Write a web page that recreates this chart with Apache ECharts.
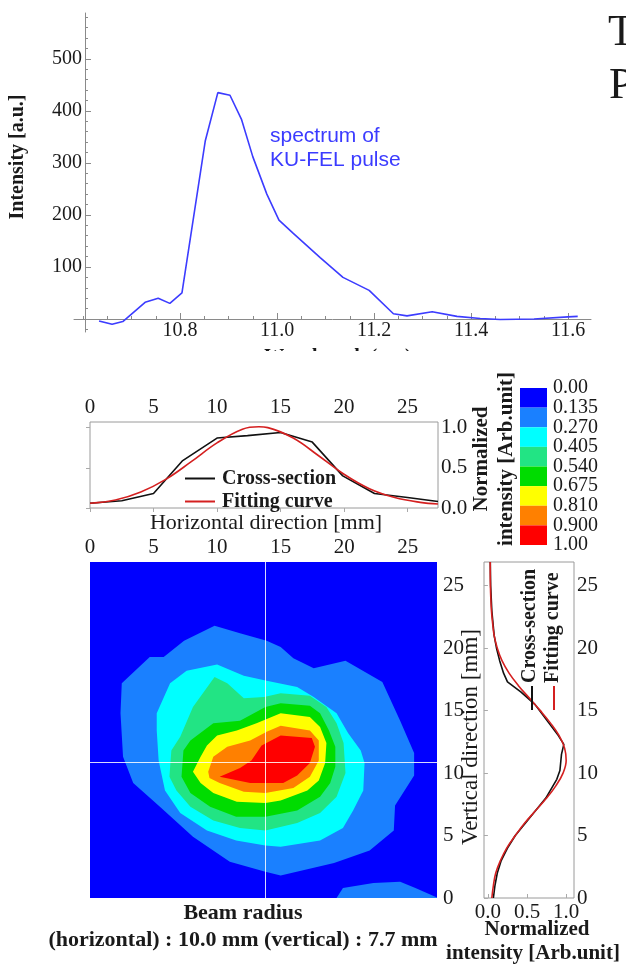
<!DOCTYPE html>
<html><head><meta charset="utf-8">
<script src="https://cdn.jsdelivr.net/npm/echarts@6/dist/echarts.min.js"></script>
<style>html,body{margin:0;padding:0;background:#fff}#c{width:626px;height:968px}</style>
</head><body><div id="c"></div>
<script>
// ---------- Spectrum of KU-FEL pulse ----------
const specWavelength = [10.633,10.66,10.682,10.728,10.755,10.779,10.804,10.852,10.878,10.903,10.927,10.95,10.979,11.004,11.033,11.089,11.136,11.19,11.24,11.268,11.32,11.371,11.419,11.46,11.53,11.6,11.62];
const specIntensity  = [-4,-10,-5,32,40,30,50,342,435,430,383,312,240,190,165,118,80,55,10,6,14,5,1,-1,0,4,5];
const specXTicks = [10.8,11.0,11.2,11.4,11.6];
const specXMinor = [10.6,10.65,10.7,10.75,10.85,10.9,10.95,11.05,11.1,11.15,11.25,11.3,11.35,11.45,11.5,11.55,11.65];
const specYTicks = [100,200,300,400,500];
const specYMinor = [-20,20,40,60,80,120,140,160,180,220,240,260,280,320,340,360,380,420,440,460,480,520,540,560,580];

// ---------- Horizontal cross-section ----------
const hCrossPos = [0,2.5,5,7.3,10,12.4,15,17.5,19.9,22.4,25,27.4];
const hCross    = [0.06,0.09,0.18,0.59,0.87,0.9,0.94,0.82,0.40,0.18,0.13,0.08];
const hFitPos   = [0,2,4,6,8,10,12,13.3,14,16,18,20,22,24,26,27.4];
const hFit      = [0.06,0.1,0.2,0.36,0.58,0.81,0.98,1.01,1.0,0.87,0.65,0.42,0.24,0.13,0.07,0.05];

// ---------- Vertical cross-section ----------
const vCrossPos = [0,1,2,3,4,5,6,7,8,9.5,10.2,11.5,12.3,13,14,15.5,16.5,17.3,18,19,20,21,23,25,26.9];
const vCross    = [0.07,0.09,0.12,0.17,0.25,0.35,0.48,0.61,0.74,0.88,0.92,0.94,0.97,0.9,0.78,0.6,0.42,0.25,0.2,0.15,0.11,0.08,0.05,0.035,0.03];
const vFitPos   = [0,1,2,3,4,5,6,7,8,9,10,11,12,13,14,15,16,17,18,19,20,21,22,23,24,25,26,26.9];
const vFit      = [0.05,0.07,0.10,0.16,0.24,0.35,0.47,0.61,0.75,0.87,0.96,1.0,0.98,0.91,0.80,0.67,0.53,0.39,0.27,0.18,0.12,0.08,0.06,0.045,0.037,0.032,0.03,0.03];

// ---------- Colour levels ----------
const levelTicks  = ['0.00','0.135','0.270','0.405','0.540','0.675','0.810','0.900','1.00'];
const levelColors = ['#0000ff','#1a80ff','#00ffff','#22e484','#00dc00','#ffff00','#ff8000','#ff0000'];

// ---------- Contour boundaries (mm) ----------
const contour1 = [[2.5,17.2],[4.7,19.3],[5.8,19.3],[7.4,20.6],[9.8,21.8],[11.8,21.2],[13.9,20.6],[15.0,20.1],[16.0,19.2],[17.6,18.4],[20.1,19.0],[23.0,17.3],[24.4,14.2],[25.5,11.6],[25.5,9.8],[24.0,7.4],[23.9,5.4],[22.0,3.8],[19.2,2.8],[15.0,1.8],[13.8,2.1],[11.0,2.9],[8.1,4.9],[5.5,7.3],[3.4,9.2],[2.6,11.3],[2.4,14.8]];
const contour1b = [[19.4,0],[19.9,0.8],[22.3,1.2],[24.4,1.3],[25.6,0.8],[27.3,0.05],[27.3,0]];
const contour2 = [[5.25,14.8],[6.3,17.2],[7.6,18.2],[10.0,18.7],[12.1,17.8],[13.9,17.4],[16.3,16.9],[17.6,16.1],[19.4,14.8],[20.3,13.2],[21.3,11.8],[21.6,10.8],[21.5,8.6],[20.7,7.0],[19.9,5.6],[18.1,4.6],[15.0,4.1],[13.8,4.2],[11.5,4.6],[9.2,5.4],[7.1,6.8],[5.9,8.6],[5.4,11.0],[5.25,13.4]];
const contour3 = [[6.25,9.7],[6.4,11.8],[7.1,12.9],[8.1,15.3],[9.8,17.7],[10.8,17.2],[12.1,16.0],[13.7,16.1],[15.0,16.4],[17.3,16.2],[18.6,15.3],[19.4,14.0],[19.95,12.4],[20.1,10.0],[19.4,8.1],[18.1,6.8],[16.3,6.0],[13.8,5.4],[11.8,5.6],[9.7,6.2],[7.9,7.3],[6.8,8.6]];
const contour4 = [[7.2,9.7],[7.35,11.8],[7.9,12.6],[9.7,14.0],[11.8,14.2],[13.8,15.3],[15.0,15.6],[17.3,15.4],[18.1,14.8],[18.8,13.4],[19.3,12.1],[19.3,10.5],[18.9,9.2],[18.1,8.1],[16.3,7.0],[13.8,6.5],[11.5,6.5],[9.45,7.3],[7.9,8.4]];
const contour5 = [[8.1,10.1],[8.7,11.3],[9.2,12.2],[10.0,13.0],[11.55,13.4],[13.1,14.0],[15.0,14.8],[17.3,14.5],[18.1,13.7],[18.6,12.4],[18.5,10.8],[18.0,9.4],[17.1,8.6],[15.0,7.8],[13.8,7.6],[11.55,7.7],[9.7,8.4],[8.7,9.2]];
const contour6 = [[9.3,10.1],[9.7,11.3],[10.8,12.1],[12.6,12.6],[13.9,13.3],[15.0,13.8],[17.3,13.4],[18.0,12.6],[18.0,11.0],[17.3,9.7],[16.0,8.8],[13.8,8.4],[12.1,8.5],[10.2,9.2],[9.4,9.6]];
const contour7 = [[10.2,9.7],[11.8,10.4],[12.7,11.0],[13.5,12.2],[15.0,13.0],[17.45,12.8],[17.7,12.1],[17.3,10.8],[16.3,9.8],[15.2,9.2],[13.8,9.2],[12.6,9.2]];
const crossHairX = 13.8, crossHairY = 10.9;

const contourPolys = [
  {level:1, pts:contour1},{level:1, pts:contour1b},{level:2, pts:contour2},{level:3, pts:contour3},
  {level:4, pts:contour4},{level:5, pts:contour5},{level:6, pts:contour6},{level:7, pts:contour7}
];

const serif = '"Liberation Serif","Times New Roman",serif';
const sans = '"Liberation Sans",Arial,sans-serif';
const axisGray = '#8a8a8a';
const txtCol = '#1a1a1a';

function txt(x, y, text, font, opt) {
  opt = opt || {};
  const a = opt.align || 'center', v = opt.va || 'middle';
  return {type:'text', x:x, y:y, rotation:opt.rot || 0, z:100,
    style:{text:text, font:font, fill:opt.fill || txtCol, align:a, textAlign:a, verticalAlign:v, textVerticalAlign:v}};
}

const chart = echarts.init(document.getElementById('c'), null, {renderer:'canvas', width:626, height:968});

const labelSerif = (size, bold) => ({fontFamily:serif, fontSize:size, fontWeight: bold ? 'bold' : 'normal', color:txtCol});
const mmTicks = [0,5,10,15,20,25];
const levelIdxEven = levelTicks.map((t,i)=>i).filter(i=>i%2===0);
const levelIdxOdd  = levelTicks.map((t,i)=>i).filter(i=>i%2===1);
const levelAxis = (vals) => ({gridIndex:4, type:'value', min:0, max:8, inverse:true, position:'right',
     axisLine:{show:false}, axisTick:{show:false}, splitLine:{show:false},
     axisLabel:{customValues:vals, showMinLabel:true, showMaxLabel:true,
       formatter:v=>levelTicks[Math.round(v)], margin:6, ...labelSerif(20)}});

const option = {
  animation:false,
  backgroundColor:'#ffffff',
  grid:[
    {left:74, top:13, width:517, height:319},
    {left:90, top:422, width:348, height:86, show:true, borderColor:'#9a9a9a', borderWidth:1, backgroundColor:'transparent'},
    {left:90, top:562, width:347, height:336, show:true, borderWidth:0, backgroundColor:levelColors[0]},
    {left:484, top:562, width:90, height:336, show:true, borderColor:'#9a9a9a', borderWidth:1, backgroundColor:'transparent'},
    {left:520, top:388, width:27, height:157}
  ],
  xAxis:[
    {gridIndex:0, type:'value', min:10.5814, max:11.6474, position:'bottom', offset:-13,
     axisLine:{onZero:false, lineStyle:{color:axisGray}},
     axisTick:{customValues:specXTicks, inside:true, length:6, lineStyle:{color:axisGray}},
     axisLabel:{customValues:specXTicks, formatter:v=>Number(v).toFixed(1), margin:2, ...labelSerif(20)},
     splitLine:{show:false}},
    {gridIndex:0, type:'value', min:10.5814, max:11.6474, position:'bottom', offset:-13,
     axisLine:{show:false, onZero:false},
     axisTick:{customValues:specXMinor, inside:true, length:3, lineStyle:{color:axisGray}},
     axisLabel:{show:false}, splitLine:{show:false}},
    {gridIndex:1, type:'value', min:0, max:27.4, position:'top',
     axisLine:{show:false},
     axisTick:{customValues:mmTicks, inside:true, length:4, lineStyle:{color:'#aaa'}},
     axisLabel:{customValues:mmTicks, margin:4, ...labelSerif(21)},
     splitLine:{show:false}},
    {gridIndex:2, type:'value', min:0, max:27.3, position:'top',
     axisLine:{show:false},
     axisTick:{customValues:mmTicks, inside:true, length:3, lineStyle:{color:'rgba(255,255,255,0.6)'}},
     axisLabel:{customValues:mmTicks, margin:4, ...labelSerif(21)},
     splitLine:{show:false}},
    {gridIndex:3, type:'value', min:-0.05, max:1.1, position:'bottom',
     axisLine:{show:false},
     axisTick:{customValues:[0,0.5,1.0], inside:true, length:4, lineStyle:{color:'#aaa'}},
     axisLabel:{customValues:[0,0.5,1.0], formatter:v=>Number(v).toFixed(1), margin:4, ...labelSerif(21)},
     splitLine:{show:false}},
    {gridIndex:4, type:'value', min:0, max:1, show:false}
  ],
  yAxis:[
    {gridIndex:0, type:'value', min:-25, max:588, offset:-11, position:'left',
     axisLine:{show:true, onZero:false, lineStyle:{color:axisGray}},
     axisTick:{customValues:specYTicks, inside:true, length:6, lineStyle:{color:axisGray}},
     axisLabel:{customValues:specYTicks, margin:3, ...labelSerif(20)},
     splitLine:{show:false}},
    {gridIndex:0, type:'value', min:-25, max:588, offset:-11, position:'left',
     axisLine:{show:false, onZero:false},
     axisTick:{customValues:specYMinor, inside:true, length:3, lineStyle:{color:axisGray}},
     axisLabel:{show:false}, splitLine:{show:false}},
    {gridIndex:1, type:'value', min:0, max:1.07, position:'right',
     axisLine:{show:false},
     axisTick:{customValues:[0,0.5,1.0], inside:true, length:4, lineStyle:{color:'#aaa'}},
     axisLabel:{customValues:[0,0.5,1.0], formatter:v=>Number(v).toFixed(1), margin:3, ...labelSerif(21)},
     splitLine:{show:false}},
    {gridIndex:2, type:'value', min:0, max:26.9, position:'right',
     axisLine:{show:false},
     axisTick:{customValues:mmTicks, inside:true, length:3, lineStyle:{color:'rgba(255,255,255,0.6)'}},
     axisLabel:{customValues:mmTicks, margin:6, ...labelSerif(21)},
     splitLine:{show:false}},
    {gridIndex:3, type:'value', min:0, max:26.9, position:'right',
     axisLine:{show:false},
     axisTick:{customValues:mmTicks, inside:true, length:4, lineStyle:{color:'#aaa'}},
     axisLabel:{customValues:mmTicks, margin:3, ...labelSerif(21)},
     splitLine:{show:false}},
    {gridIndex:4, type:'category', data:levelColors.map((c,i)=>String(i)), inverse:true, show:false},
    levelAxis(levelIdxEven),
    levelAxis(levelIdxOdd)
  ],
  legend:[{
    data:['Cross-section','Fitting curve'], orient:'vertical', left:180, top:463,
    icon:'rect', itemWidth:30, itemHeight:2, itemGap:2,
    textStyle:{fontFamily:serif, fontWeight:'bold', fontSize:20, color:txtCol, lineHeight:21, padding:[0,0,0,2]},
    selectedMode:false
  }],
  series:[
    {type:'line', name:'spectrum', xAxisIndex:0, yAxisIndex:0, showSymbol:false, symbol:'none',
     color:'#3c3cff', lineStyle:{width:1.6, color:'#3c3cff'},
     data:specWavelength.map((w,i)=>[w, specIntensity[i]])},
    {type:'line', name:'Cross-section', xAxisIndex:2, yAxisIndex:2, symbol:'none', color:'#111',
     lineStyle:{width:1.6, color:'#111'}, z:3,
     data:hCrossPos.map((p,i)=>[p, hCross[i]])},
    {type:'line', name:'Fitting curve', xAxisIndex:2, yAxisIndex:2, symbol:'none', smooth:0.4, color:'#d42020',
     lineStyle:{width:1.6, color:'#d42020'}, z:4,
     data:hFitPos.map((p,i)=>[p, hFit[i]])},
    {type:'custom', name:'contours', xAxisIndex:3, yAxisIndex:3, clip:true,
     data:contourPolys.map(p=>p.pts[0]),
     renderItem:function(params, api){
       const poly = contourPolys[params.dataIndex];
       return {type:'polygon', shape:{points:poly.pts.map(pt=>api.coord(pt))},
               style:{fill:levelColors[poly.level], stroke:null}};
     },
     z:2},
    {type:'line', name:'crosshair', xAxisIndex:3, yAxisIndex:3, data:[], symbol:'none', z:10,
     markLine:{silent:true, symbol:'none', label:{show:false},
       lineStyle:{color:'rgba(255,255,255,0.85)', width:1, type:'solid'},
       data:[{xAxis:crossHairX},{yAxis:crossHairY}]}},
    {type:'line', name:'Cross-section (v)', xAxisIndex:4, yAxisIndex:4, symbol:'none', color:'#111',
     lineStyle:{width:1.6, color:'#111'}, z:3,
     data:vCrossPos.map((p,i)=>[vCross[i], p])},
    {type:'line', name:'Fitting curve (v)', xAxisIndex:4, yAxisIndex:4, symbol:'none', smooth:0.4, color:'#d42020',
     lineStyle:{width:1.6, color:'#d42020'}, z:4,
     data:vFitPos.map((p,i)=>[vFit[i], p])},
    {type:'bar', name:'colorbar', xAxisIndex:5, yAxisIndex:5, barCategoryGap:'0%', barWidth:'100%',
     data:levelColors.map(c=>({value:1, itemStyle:{color:c}}))}
  ],
  graphic:[
    txt(608, 33, 'T', '44px ' + serif, {align:'left'}),
    txt(609, 86, 'P', '44px ' + serif, {align:'left'}),
    txt(270, 136, 'spectrum of', '21px ' + sans, {align:'left', fill:'#3b3bff'}),
    txt(270, 160, 'KU-FEL pulse', '21px ' + sans, {align:'left', fill:'#3b3bff'}),
    txt(18, 157, 'Intensity [a.u.]', 'bold 20px ' + serif, {rot:Math.PI/2}),
    txt(338, 358, 'Wavelength (\u03bcm)', 'bold 20px ' + serif),
    {type:'rect', shape:{x:150, y:351, width:380, height:18}, style:{fill:'#ffffff'}, z:101},
    txt(482, 459, 'Normalized', 'bold 21px ' + serif, {rot:Math.PI/2}),
    txt(507, 459, 'intensity [Arb.unit]', 'bold 21px ' + serif, {rot:Math.PI/2}),
    txt(266, 523, 'Horizontal direction [mm]', '22px ' + serif),
    txt(471, 737, 'Vertical direction [mm]', '23px ' + serif, {rot:Math.PI/2}),
    txt(530, 683, 'Cross-section', 'bold 20px ' + serif, {rot:Math.PI/2, align:'left'}),
    {type:'line', shape:{x1:532, y1:686, x2:532, y2:710}, style:{stroke:'#111', lineWidth:2}, z:100},
    txt(553, 683, 'Fitting curve', 'bold 20px ' + serif, {rot:Math.PI/2, align:'left'}),
    {type:'line', shape:{x1:554, y1:686, x2:554, y2:710}, style:{stroke:'#d42020', lineWidth:2}, z:100},
    txt(537, 930, 'Normalized', 'bold 21px ' + serif),
    txt(533, 954, 'intensity [Arb.unit]', 'bold 21px ' + serif),
    txt(243, 913, 'Beam radius', 'bold 22px ' + serif),
    txt(243, 940, '(horizontal) : 10.0 mm (vertical) : 7.7 mm', 'bold 22px ' + serif)
  ]
};
chart.setOption(option);
</script>
</body></html>
